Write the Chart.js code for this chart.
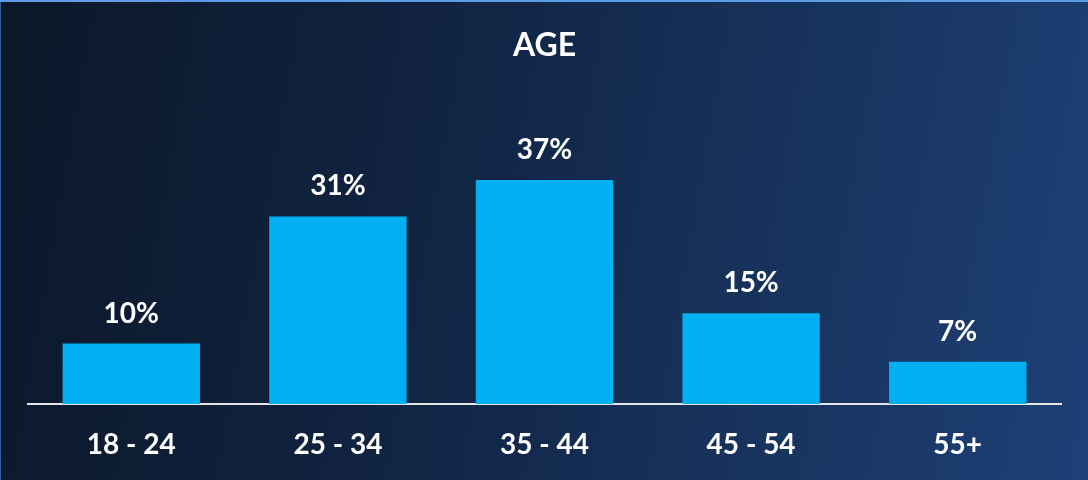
<!DOCTYPE html>
<html>
<head>
<meta charset="utf-8">
<script src="https://cdn.jsdelivr.net/npm/chart.js@4"></script>
<style>
  html, body { margin: 0; padding: 0; }
  body {
    width: 1088px; height: 480px; overflow: hidden;
    background: linear-gradient(100deg, #0b1829 0%, #10223f 35%, #17335d 70%, #1e4077 100%);
    box-shadow: inset 0 2px 0 #5b9de6, inset 1px 0 0 #2f5d99;
  }
  canvas { display: block; }
</style>
</head>
<body>
<canvas id="ageChart" width="1088" height="480"></canvas>
<script>
// age groups and share of respondents (%)
var ageGroups = ['18 - 24', '25 - 34', '35 - 44', '45 - 54', '55+'];
var agePercent = [10, 31, 37, 15, 7];

var fontFamily = 'Lato, "Open Sans", sans-serif';

// writes "NN%" above each bar
var valueLabels = {
	id: 'valueLabels',
	afterDatasetsDraw: function(chart) {
		var ctx = chart.ctx;
		var meta = chart.getDatasetMeta(0);
		ctx.save();
		ctx.fillStyle = '#ffffff';
		ctx.font = 'bold 28px ' + fontFamily;
		ctx.textAlign = 'center';
		ctx.textBaseline = 'middle';
		meta.data.forEach(function(bar, i) {
			ctx.fillText(agePercent[i] + '%', bar.x, bar.y - 30);
		});
		ctx.restore();
	}
};

var ctx = document.getElementById('ageChart').getContext('2d');
var chart = new Chart(ctx, {
	type: 'bar',
	data: {
		labels: ageGroups,
		datasets: [{
			data: agePercent,
			backgroundColor: '#00b0f0',
			borderWidth: 0,
			categoryPercentage: 1,
			barPercentage: 0.665
		}]
	},
	options: {
		responsive: false,
		animation: false,
		layout: {
			padding: { left: 28, right: 27, top: 0, bottom: 18 }
		},
		plugins: {
			legend: { display: false },
			tooltip: { enabled: false },
			title: {
				display: true,
				text: 'AGE',
				color: '#ffffff',
				font: { family: fontFamily, size: 32, weight: 'bold' },
				padding: { top: 26, bottom: 37 }
			}
		},
		scales: {
			x: {
				grid: { display: false, drawTicks: false },
				border: { display: true, color: '#e6e6e6', width: 2 },
				ticks: {
					color: '#ffffff',
					padding: 24,
					font: { family: fontFamily, size: 28, weight: 'bold' }
				},
				// keep the label strip tight: padding + one line of text
				afterFit: function(scale) {
					scale.height = 58;
				}
			},
			y: {
				display: false,
				min: 0,
				max: 50
			}
		}
	},
	plugins: [valueLabels]
});
</script>
</body>
</html>
